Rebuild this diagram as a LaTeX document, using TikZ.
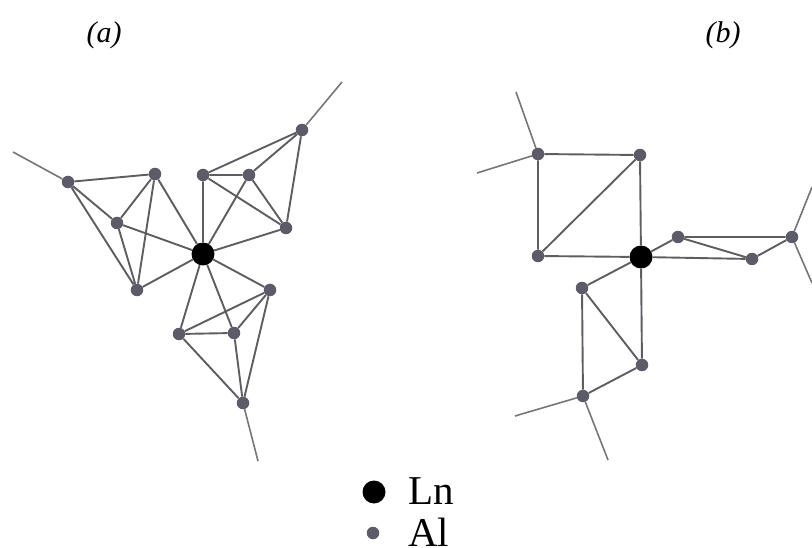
\documentclass[tikz,border=0pt]{standalone}
\usepackage{fontspec}
\setmainfont{Liberation Serif}
\usepackage{tikz}
\definecolor{bondgray}{HTML}{5E5E62}
\definecolor{algray}{HTML}{5C5C68}

\begin{document}
\begin{tikzpicture}[x=1pt,y=-1pt,
                    bond/.style={draw=bondgray,line width=1.9pt},
                    free/.style={draw=bondgray!85,line width=1.6pt},
                    Ln/.style={circle,fill=black,inner sep=0pt,minimum size=23pt},
                    Al/.style={circle,fill=algray,inner sep=0pt,minimum size=12.5pt},
                    lab/.style={font=\itshape\fontsize{30}{30}\selectfont},
                    key/.style={anchor=base west,inner sep=0pt,font=\fontsize{41}{41}\selectfont}]
  \useasboundingbox (0,0) rectangle (812,548);
  % panel a
  \node[Ln] (La) at (203,254) {};
  \node[Al] (a1) at (68,182) {};
  \node[Al] (a2) at (155,174) {};
  \node[Al] (a3) at (117,223) {};
  \node[Al] (a4) at (137,290) {};
  \node[Al] (b1) at (302,130) {};
  \node[Al] (b2) at (203,175) {};
  \node[Al] (b3) at (249,175) {};
  \node[Al] (b4) at (286,228) {};
  \node[Al] (c1) at (270,290) {};
  \node[Al] (c2) at (179,334) {};
  \node[Al] (c3) at (234,333) {};
  \node[Al] (c4) at (243,403) {};
  \coordinate (fa) at (13,152);
  \coordinate (fb) at (342,82);
  \coordinate (fc) at (258,461);
  \path[bond] (a1) -- (a2) (a1) -- (a3) (a1) -- (a4) (a2) -- (a3) (a2) -- (a4)
        (a3) -- (a4) (a2) -- (La) (a3) -- (La) (a4) -- (La);
  \path[bond] (b1) -- (b2) (b1) -- (b3) (b1) -- (b4) (b2) -- (b3) (b2) -- (b4)
        (b3) -- (b4) (b2) -- (La) (b3) -- (La) (b4) -- (La);
  \path[bond] (c1) -- (c2) (c1) -- (c3) (c1) -- (c4) (c2) -- (c3) (c2) -- (c4)
        (c3) -- (c4) (c1) -- (La) (c2) -- (La) (c3) -- (La);
  \path[free] (a1) -- (fa) (b1) -- (fb) (c4) -- (fc);
  % panel b
  \node[Ln] (Lb) at (641,257) {};
  \node[Al] (d1) at (538,154) {};
  \node[Al] (d2) at (640,155) {};
  \node[Al] (d3) at (538,256) {};
  \node[Al] (e1) at (678,237) {};
  \node[Al] (e2) at (752,259) {};
  \node[Al] (e3) at (792,237) {};
  \node[Al] (f1) at (582,288) {};
  \node[Al] (f2) at (642,365) {};
  \node[Al] (f3) at (583,396) {};
  \coordinate (fd1) at (516,92);
  \coordinate (fd2) at (477,173);
  \coordinate (fe1) at (812,187);
  \coordinate (fe2) at (812,283);
  \coordinate (ff1) at (515,416);
  \coordinate (ff2) at (608,460);
  \path[bond] (d1) -- (d2) (d1) -- (d3) (d2) -- (d3) (d2) -- (Lb) (d3) -- (Lb);
  \path[bond] (e1) -- (e3) (e1) -- (e2) (e2) -- (e3) (e1) -- (Lb) (e2) -- (Lb);
  \path[bond] (f1) -- (f2) (f1) -- (f3) (f2) -- (f3) (f1) -- (Lb) (f2) -- (Lb);
  \path[free] (d1) -- (fd1) (d1) -- (fd2) (e3) -- (fe1) (e3) -- (fe2)
        (f3) -- (ff1) (f3) -- (ff2);
  % labels and key
  \node[lab] (tiza) at (104,35) {(a)};
  \node[lab] (tizb) at (723,35) {(b)};
  \node[Ln] (keyLn) at (374,492) {};
  \node[Al] (keyAl) at (373,533) {};
  \node[key] (txtLn) at (408,504) {Ln};
  \node[key] (txtAl) at (408,546) {Al};
\end{tikzpicture}
\end{document}
